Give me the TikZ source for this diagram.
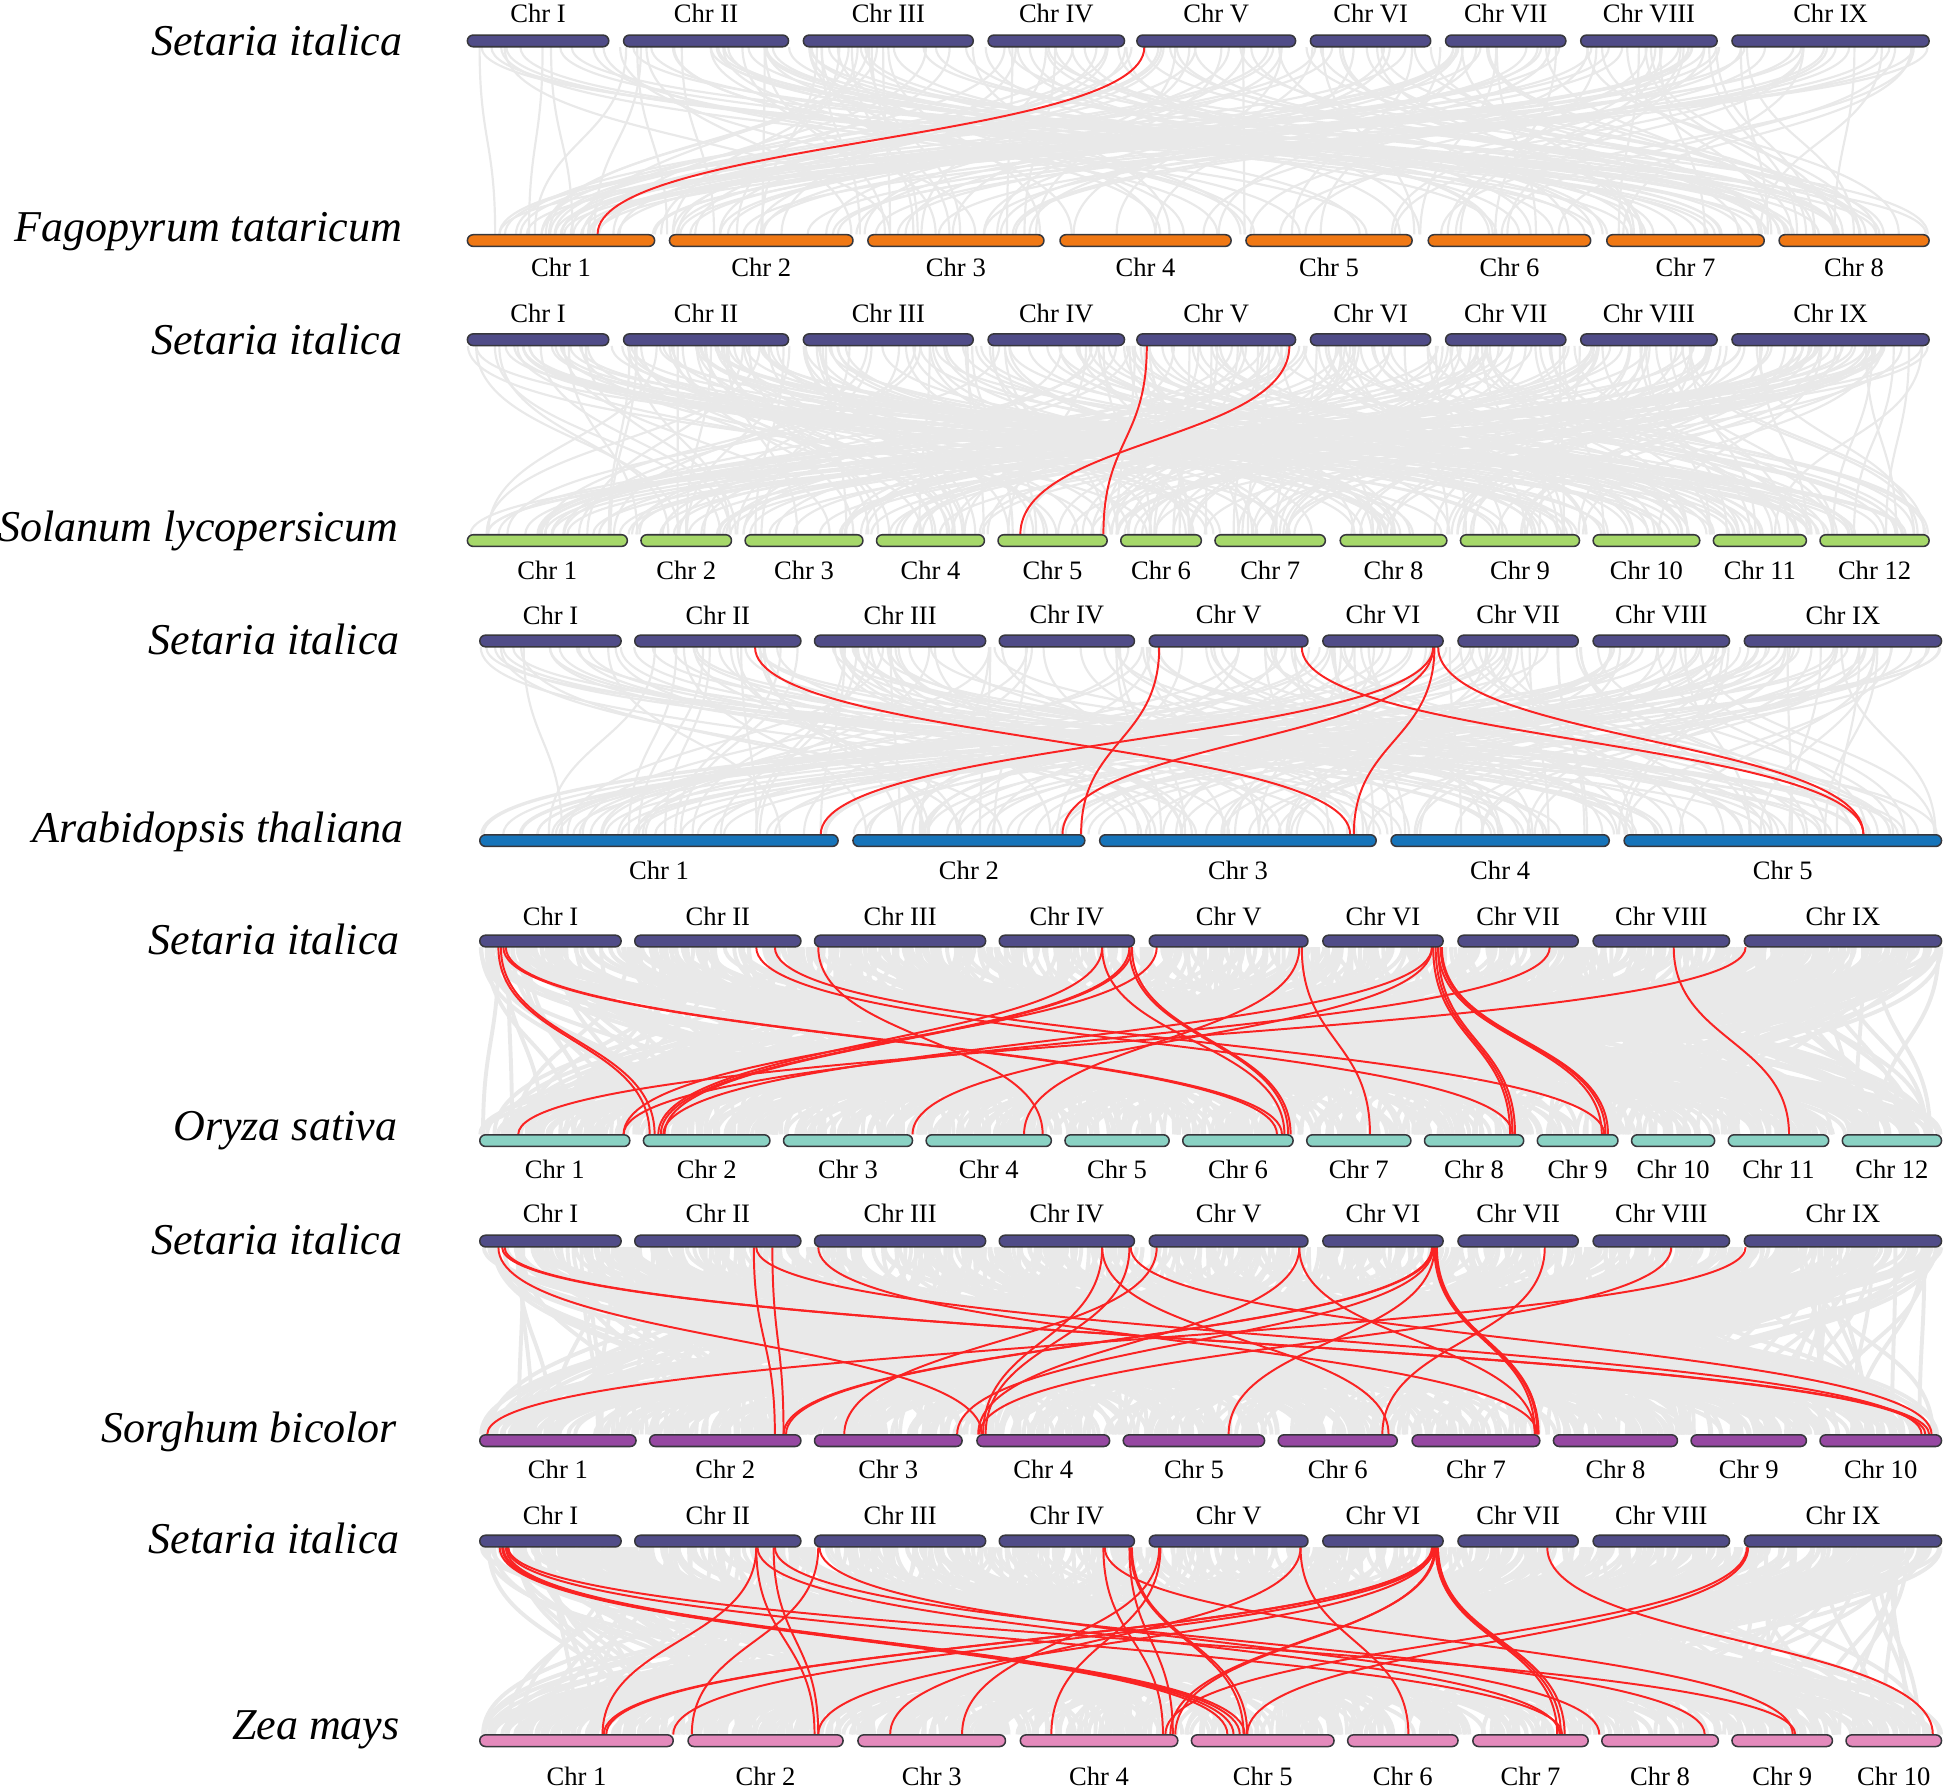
\documentclass[tikz,border=0pt]{standalone}
\usepackage{fontspec}
\setmainfont{Liberation Serif}

\definecolor{setcol}{RGB}{80,76,136}
\definecolor{fagcol}{RGB}{240,120,20}
\definecolor{solcol}{RGB}{166,216,106}
\definecolor{arabcol}{RGB}{22,116,186}
\definecolor{oryzcol}{RGB}{138,210,196}
\definecolor{sorgcol}{RGB}{150,72,162}
\definecolor{zeacol}{RGB}{228,138,188}
\definecolor{chredge}{RGB}{55,55,60}
\definecolor{linkgray}{RGB}{233,233,233}
\definecolor{linkred}{RGB}{250,35,35}

% chromosome row: y, colour, list, label shift, name prefix
\newcommand{\chrrow}[5]{%
  \foreach \xa/\xb/\lab [count=\i] in #3 {
    \draw[chrbar, fill=#2] (\xa,#1-4.7) rectangle (\xb,#1+4.7);
    \node[chrlabel] (#5\i) at ({(\xa+\xb)/2},{#1+(#4)}) {\lab};
  }}
% background links: ytop, ybot, number, xmin, xmax top, xmax bottom, width
\newcommand{\graylinks}[7]{%
  \foreach \k in {1,...,#3} {
    \pgfmathsetmacro\ga{#4+rnd*(#5-#4)}
    \pgfmathsetmacro\gb{#4+rnd*(#6-#4)}
    \draw[graylink, line width=#7] (\ga,#1+5) .. controls (\ga,{(#1+#2)/2}) and (\gb,{(#1+#2)/2}) .. (\gb,#2-5);
  }}
% highlighted links: ytop, ybot, list top/bottom
\newcommand{\redlinks}[3]{%
  \foreach \a/\b in #3 {
    \draw[redlink] (\a,#1+5) .. controls (\a,{(#1+#2)/2}) and (\b,{(#1+#2)/2}) .. (\b,#2-5);
  }}

% Setaria rows
\def\setA{377/491/Chr I, 503/636/Chr II, 648/785/Chr III, 797/907/Chr IV, 917/1045/Chr V, 1057/1154/Chr VI, 1166/1263/Chr VII, 1275/1385/Chr VIII, 1397/1556/Chr IX}
\def\setB{387/501/Chr I, 512/646/Chr II, 657/795/Chr III, 806/915/Chr IV, 927/1055/Chr V, 1067/1164/Chr VI, 1176/1273/Chr VII, 1285/1395/Chr VIII, 1407/1566/Chr IX}
% other species
\def\fag{377/528/Chr 1, 540/688/Chr 2, 700/842/Chr 3, 855/993/Chr 4, 1005/1139/Chr 5, 1152/1283/Chr 6, 1296/1423/Chr 7, 1435/1556/Chr 8}
\def\sol{377/506/Chr 1, 517/590/Chr 2, 601/696/Chr 3, 707/794/Chr 4, 805/893/Chr 5, 904/969/Chr 6, 980/1069/Chr 7, 1081/1167/Chr 8, 1178/1274/Chr 9, 1285/1371/Chr 10, 1382/1457/Chr 11, 1468/1556/Chr 12}
\def\arab{387/676/Chr 1, 688/875/Chr 2, 887/1110/Chr 3, 1122/1298/Chr 4, 1310/1566/Chr 5}
\def\oryz{387/508/Chr 1, 519/621/Chr 2, 632/736/Chr 3, 747/848/Chr 4, 859/943/Chr 5, 954/1043/Chr 6, 1054/1138/Chr 7, 1149/1229/Chr 8, 1240/1305/Chr 9, 1316/1383/Chr 10, 1394/1475/Chr 11, 1486/1566/Chr 12}
\def\sorg{387/513/Chr 1, 524/646/Chr 2, 657/776/Chr 3, 788/895/Chr 4, 906/1020/Chr 5, 1031/1127/Chr 6, 1139/1242/Chr 7, 1253/1353/Chr 8, 1364/1457/Chr 9, 1468/1566/Chr 10}
\def\zea{387/543/Chr 1, 555/680/Chr 2, 692/811/Chr 3, 823/950/Chr 4, 961/1076/Chr 5, 1087/1176/Chr 6, 1188/1281/Chr 7, 1292/1386/Chr 8, 1397/1478/Chr 9, 1489/1566/Chr 10}

% red links
\def\redA{923/482}
\def\redB{925/890, 1040/823}
\def\redC{609/1089, 935/872, 1050/1503, 1156/662, 1156/857, 1157/1092, 1160/1503}
\def\redD{402/524, 404/528, 406/1030, 408/1034, 610/1220, 625/1294, 660/841, 889/531, 911/533, 913/536, 889/1036, 911/1039, 913/1041, 933/503, 1048/826, 1050/1105, 1155/736, 1156/1218, 1158/1220, 1160/1222, 1160/1292, 1162/1295, 1163/1297, 1155/535, 1250/503, 1350/1443, 1408/418}
\def\redE{402/792, 405/1553, 407/1556, 608/625, 610/1550, 623/632, 660/1240, 889/793, 889/1120, 911/795, 912/1558, 933/681, 1048/1238, 1048/789, 1155/632, 1156/634, 1157/991, 1156/772, 1157/1238, 1158/1240, 1159/1241, 1246/1115, 1348/790, 1408/393}
\def\redF{403/990, 405/995, 406/1000, 408/1004, 409/1260, 410/1448, 610/486, 610/657, 611/1258, 624/660, 625/1375, 660/558, 661/1290, 890/938, 891/1446, 911/946, 912/1003, 913/1006, 935/776, 936/848, 1049/1136, 1049/718, 1155/487, 1156/489, 1156/660, 1157/543, 1157/948, 1158/944, 1158/1256, 1159/1259, 1160/1262, 1248/1559, 1409/940, 1410/1006}

\begin{document}
\begin{tikzpicture}[x=0.01cm, y=-0.01cm,
    chrbar/.style={draw=chredge, line width=0.35pt, rounded corners=0.046cm},
    chrlabel/.style={font=\fontsize{6.1}{7}\selectfont, inner sep=0pt},
    species/.style={font=\fontsize{10.1}{12}\selectfont\itshape, anchor=east, inner sep=0pt},
    graylink/.style={draw=linkgray},
    redlink/.style={draw=linkred, line width=0.45pt}]
  \useasboundingbox (0,0) rectangle (1568,1444);
  \pgfmathsetseed{17}

  % background links
  \graylinks{33}{194}{200}{377}{1556}{1556}{0.5pt}
  \graylinks{274}{436}{320}{377}{1556}{1556}{0.5pt}
  \graylinks{517}{678}{220}{387}{1566}{1566}{0.5pt}
  \graylinks{759}{920}{650}{387}{1566}{1566}{0.9pt}
  \graylinks{1001}{1162}{650}{387}{1566}{1566}{0.9pt}
  \graylinks{1243}{1404}{650}{387}{1566}{1566}{0.9pt}

  % highlighted links
  \redlinks{33}{194}{\redA}
  \redlinks{274}{436}{\redB}
  \redlinks{517}{678}{\redC}
  \redlinks{759}{920}{\redD}
  \redlinks{1001}{1162}{\redE}
  \redlinks{1243}{1404}{\redF}

  % chromosome rows
  \chrrow{33}{setcol}{\setA}{-22}{sa}
  \chrrow{194}{fagcol}{\fag}{22}{ft}
  \chrrow{274}{setcol}{\setA}{-21}{sb}
  \chrrow{436}{solcol}{\sol}{24}{sl}
  \chrrow{517}{setcol}{\setB}{-21}{sc}
  \chrrow{678}{arabcol}{\arab}{24}{at}
  \chrrow{759}{setcol}{\setB}{-20}{sd}
  \chrrow{920}{oryzcol}{\oryz}{23}{os}
  \chrrow{1001}{setcol}{\setB}{-22}{se}
  \chrrow{1162}{sorgcol}{\sorg}{23}{sbi}
  \chrrow{1243}{setcol}{\setB}{-21}{sf}
  \chrrow{1404}{zeacol}{\zea}{29}{zm}

  % species names
  \node[species] (sp1) at (325,33) {Setaria italica};
  \node[species] (sp2) at (325,187) {Fagopyrum tataricum};
  \node[species] (sp3) at (325,274) {Setaria italica};
  \node[species] (sp4) at (322,428) {Solanum lycopersicum};
  \node[species] (sp5) at (323,516) {Setaria italica};
  \node[species] (sp6) at (326,671) {Arabidopsis thaliana};
  \node[species] (sp7) at (323,758) {Setaria italica};
  \node[species] (sp8) at (321,912) {Oryza sativa};
  \node[species] (sp9) at (325,1000) {Setaria italica};
  \node[species] (sp10) at (321,1155) {Sorghum bicolor};
  \node[species] (sp11) at (323,1241) {Setaria italica};
  \node[species] (sp12) at (323,1395) {Zea mays};
\end{tikzpicture}
\end{document}
